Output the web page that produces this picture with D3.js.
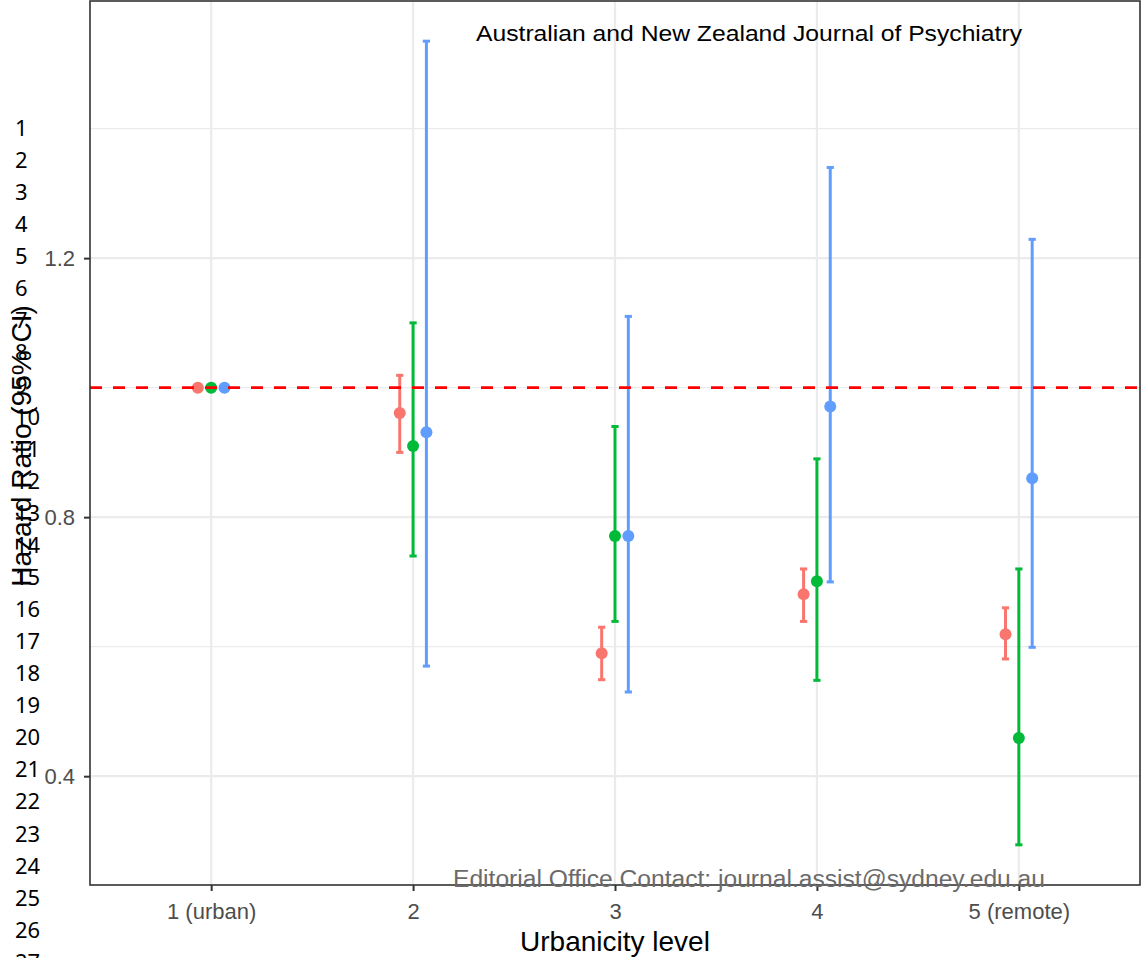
<!DOCTYPE html>
<html>
<head>
<meta charset="utf-8">
<script src="https://cdn.jsdelivr.net/npm/d3@7"></script>
<style>
  body { margin: 0; background: #fff; }
  svg { display: block; }
</style>
</head>
<body>
<script>
// data
const levels = ["1 (urban)", "2", "3", "4", "5 (remote)"];
const groups = ["a", "b", "c"];
const groupColors = ["#F8766D", "#00BA38", "#619CFF"];

const hrA = [1.00, 0.961, 0.590, 0.681, 0.619];
const loA = [1.00, 0.900, 0.549, 0.639, 0.581];
const hiA = [1.00, 1.019, 0.630, 0.720, 0.660];

const hrB = [1.00, 0.910, 0.771, 0.701, 0.459];
const loB = [1.00, 0.740, 0.639, 0.548, 0.294];
const hiB = [1.00, 1.100, 0.940, 0.890, 0.720];

const hrC = [1.00, 0.931, 0.771, 0.971, 0.860];
const loC = [1.00, 0.570, 0.530, 0.700, 0.599];
const hiC = [1.00, 1.535, 1.110, 1.340, 1.229];

const majorTicks = [0.4, 0.8, 1.2];
const minorTicks = [0.6, 1.0, 1.4];
const refLine = 1.0;
const lineNumbers = d3.range(1, 28);

const W = 1141, H = 958;
const panel = { left: 90, right: 1140, top: 1, bottom: 885 };

const svg = d3.select("body").append("svg")
  .attr("width", W)
  .attr("height", H);

// build rows
const series = [
  { hr: hrA, lo: loA, hi: hiA },
  { hr: hrB, lo: loB, hi: hiB },
  { hr: hrC, lo: loC, hi: hiC }
];
let rows = [];
series.forEach((s, gi) => {
  levels.forEach((lv, li) => {
    rows.push({ level: lv, g: gi, hr: s.hr[li], lo: s.lo[li], hi: s.hi[li] });
  });
});

// scales (ggplot style expansion)
const x = d3.scalePoint()
  .domain(levels)
  .range([panel.left, panel.right])
  .padding(0.6);
const dodge = x.step() * 0.066;

const yMin = d3.min(rows, d => d.lo), yMax = d3.max(rows, d => d.hi);
const pad = (yMax - yMin) * 0.05;
const y = d3.scaleLinear()
  .domain([yMin - pad, yMax + pad])
  .range([panel.bottom, panel.top]);

// grid
const grid = svg.append("g");
grid.selectAll(".minor")
  .data(minorTicks.filter(t => y(t) > panel.top && y(t) < panel.bottom))
  .enter().append("line")
  .attr("x1", panel.left).attr("x2", panel.right)
  .attr("y1", d => y(d)).attr("y2", d => y(d))
  .attr("stroke", "#EBEBEB").attr("stroke-width", 1.1);
grid.selectAll(".major")
  .data(majorTicks)
  .enter().append("line")
  .attr("x1", panel.left).attr("x2", panel.right)
  .attr("y1", d => y(d)).attr("y2", d => y(d))
  .attr("stroke", "#EBEBEB").attr("stroke-width", 2.2);
grid.selectAll(".vmajor")
  .data(levels)
  .enter().append("line")
  .attr("x1", d => x(d)).attr("x2", d => x(d))
  .attr("y1", panel.top).attr("y2", panel.bottom)
  .attr("stroke", "#EBEBEB").attr("stroke-width", 2.2);

// error bars
const cap = 3.6;
const bars = svg.append("g")
  .selectAll("g")
  .data(rows.filter(d => d.hi > d.lo))
  .enter().append("g")
  .attr("stroke", d => groupColors[d.g])
  .attr("stroke-width", 3);
const cx = d => x(d.level) + (d.g - 1) * dodge;
bars.append("line")
  .attr("x1", cx).attr("x2", cx)
  .attr("y1", d => y(d.lo)).attr("y2", d => y(d.hi));
bars.append("line")
  .attr("x1", d => cx(d) - cap).attr("x2", d => cx(d) + cap)
  .attr("y1", d => y(d.lo)).attr("y2", d => y(d.lo));
bars.append("line")
  .attr("x1", d => cx(d) - cap).attr("x2", d => cx(d) + cap)
  .attr("y1", d => y(d.hi)).attr("y2", d => y(d.hi));

// points
svg.append("g")
  .selectAll("circle")
  .data(rows)
  .enter().append("circle")
  .attr("cx", cx)
  .attr("cy", d => y(d.hr))
  .attr("r", 6)
  .attr("fill", d => groupColors[d.g]);

// reference line
svg.append("line")
  .attr("x1", panel.left).attr("x2", panel.right)
  .attr("y1", y(refLine)).attr("y2", y(refLine))
  .attr("stroke", "#FF0000")
  .attr("stroke-width", 2.7)
  .attr("stroke-dasharray", "12,11");

// axes
const yAxis = svg.append("g")
  .attr("transform", `translate(${panel.left},0)`)
  .call(d3.axisLeft(y).tickValues(majorTicks).tickSize(6).tickPadding(9).tickFormat(d3.format(".1f")));
const xAxis = svg.append("g")
  .attr("transform", `translate(0,${panel.bottom})`)
  .call(d3.axisBottom(x).tickSize(6).tickPadding(12));
[yAxis, xAxis].forEach(a => {
  a.select(".domain").remove();
  a.selectAll(".tick line").attr("stroke", "#333").attr("stroke-width", 2);
  a.selectAll(".tick text")
    .attr("fill", "#4D4D4D")
    .style("font-family", "'Liberation Sans', Arial, sans-serif")
    .style("font-size", "22px");
});

// panel border
svg.append("rect")
  .attr("x", panel.left).attr("y", panel.top)
  .attr("width", panel.right - panel.left)
  .attr("height", panel.bottom - panel.top)
  .attr("fill", "none")
  .attr("stroke", "#333")
  .attr("stroke-width", 1.6);

// axis titles
svg.append("text")
  .attr("x", (panel.left + panel.right) / 2)
  .attr("y", 951)
  .attr("text-anchor", "middle")
  .style("font-family", "'Liberation Sans', Arial, sans-serif")
  .style("font-size", "28px")
  .attr("fill", "#000")
  .text("Urbanicity level");
svg.append("text")
  .attr("transform", "translate(31,446) rotate(-90)")
  .attr("text-anchor", "middle")
  .style("font-family", "'Liberation Sans', Arial, sans-serif")
  .style("font-size", "28px")
  .attr("fill", "#000")
  .text("Hazard Ratio (95% CI)");

// manuscript line numbers
svg.append("g")
  .selectAll("text")
  .data(lineNumbers)
  .enter().append("text")
  .attr("x", 15)
  .attr("y", d => 136 + (d - 1) * 32.07)
  .style("font-family", "'Noto Sans', 'Open Sans', sans-serif")
  .style("font-size", "22px")
  .attr("fill", "#000")
  .text(d => d);

// journal header and footer
svg.append("text")
  .attr("x", 476).attr("y", 41)
  .attr("textLength", 546)
  .attr("lengthAdjust", "spacingAndGlyphs")
  .style("font-family", "'Liberation Sans Narrow', 'Liberation Sans', sans-serif")
  .style("font-size", "22px")
  .attr("fill", "#000")
  .text("Australian and New Zealand Journal of Psychiatry");
svg.append("text")
  .attr("x", 453).attr("y", 887)
  .attr("textLength", 592)
  .attr("lengthAdjust", "spacingAndGlyphs")
  .style("font-family", "'Liberation Sans Narrow', 'Liberation Sans', sans-serif")
  .style("font-size", "23px")
  .attr("fill", "#6b6b6b")
  .text("Editorial Office Contact: journal.assist@sydney.edu.au");
</script>
</body>
</html>
